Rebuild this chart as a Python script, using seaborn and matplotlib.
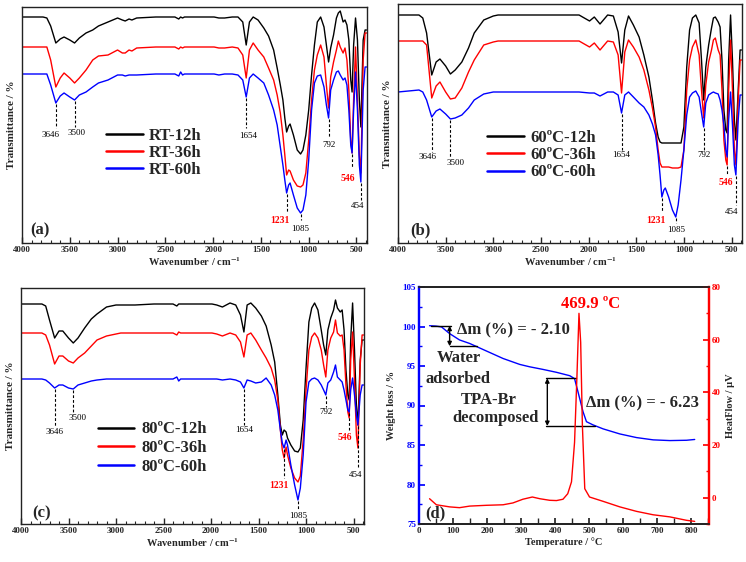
import pandas as pd
import matplotlib
matplotlib.use("Agg")
import matplotlib.pyplot as plt
from matplotlib.ticker import MultipleLocator
import seaborn as sns

# ---- FTIR data (transmittance, arbitrary units) ----
wavenumber = [4000, 3780, 3740, 3700, 3646, 3600, 3560, 3500, 3450, 3400, 3330, 3260, 3200,
              3100, 3000, 2950, 2920, 2880, 2850, 2800, 2600, 2400, 2360, 2340, 2320, 2300,
              2100, 1990, 1940, 1880, 1800, 1740, 1690, 1654, 1620, 1581, 1530, 1470,
              1420, 1367, 1330, 1297, 1270, 1250, 1231, 1210, 1195, 1160, 1120, 1085, 1060, 1030,
              1000, 970, 940, 910, 875, 840, 815, 792, 770, 740, 710, 690,
              670, 640, 620, 600, 580, 560, 546, 530, 510, 490, 470, 454, 430, 410, 395]

rt_12h = [226, 226, 225, 217, 200, 204, 206, 203, 200, 205, 210, 213, 217,
          221, 225, 223, 222, 224, 223, 225, 226, 226, 224, 226, 225, 226,
          226, 226, 225, 225, 226, 226, 221, 198, 221, 226, 223, 215,
          207, 193, 175, 158, 143, 125, 111, 117, 119, 108, 93, 89, 93, 108,
          133, 168, 198, 221, 226, 216, 198, 181, 195, 208, 225, 230,
          232, 221, 223, 218, 203, 163, 151, 198, 225, 203, 143, 116, 203, 213, 213]
rt_36h = [196, 196, 196, 183, 156, 165, 170, 165, 160, 165, 173, 183, 187,
          188, 193, 190, 190, 193, 192, 195, 196, 196, 194, 196, 195, 196,
          196, 196, 195, 195, 196, 195, 188, 165, 193, 200, 193, 186,
          175, 163, 148, 130, 108, 88, 68, 73, 72, 63, 57, 56, 58, 70,
          103, 143, 173, 188, 198, 186, 158, 135, 166, 181, 193, 202,
          196, 190, 195, 183, 153, 103, 90, 143, 196, 143, 88, 70, 183, 210, 210]
rt_60h = [169, 169, 169, 158, 140, 147, 150, 146, 143, 148, 151, 156, 160,
          163, 168, 168, 167, 168, 168, 168, 169, 169, 167, 171, 168, 169,
          169, 169, 168, 169, 169, 168, 163, 146, 165, 169, 165, 160,
          148, 133, 118, 96, 78, 63, 50, 58, 60, 48, 35, 30, 33, 48,
          83, 133, 160, 167, 168, 156, 138, 125, 153, 163, 171, 172,
          168, 163, 165, 158, 133, 98, 90, 133, 171, 133, 78, 61, 153, 176, 176]

c60_12h = [228, 228, 225, 210, 168, 181, 184, 177, 169, 173, 181, 195, 210,
           223, 227, 228, 228, 228, 228, 228, 228, 228, 228, 228, 228, 228,
           228, 222, 226, 219, 228, 227, 211, 180, 213, 227, 218, 206,
           188, 166, 143, 120, 106, 101, 100, 100, 100, 100, 100, 100, 100, 100,
           116, 176, 213, 225, 228, 220, 183, 143, 176, 198, 215, 225,
           226, 221, 216, 183, 133, 113, 110, 183, 228, 183, 123, 103, 153, 193, 193]
c60_36h = [202, 202, 202, 198, 145, 157, 161, 151, 144, 145, 155, 171, 183,
           198, 201, 202, 202, 202, 202, 202, 202, 202, 202, 202, 202, 202,
           202, 196, 200, 193, 202, 201, 188, 150, 191, 203, 196, 186,
           173, 153, 135, 116, 93, 80, 76, 76, 76, 76, 75, 75, 75, 76,
           93, 153, 183, 196, 203, 188, 153, 125, 158, 181, 193, 203,
           205, 193, 188, 153, 103, 83, 78, 153, 203, 153, 93, 78, 143, 183, 183]
c60_60h = [151, 153, 151, 143, 126, 132, 134, 129, 124, 125, 128, 135, 143,
           149, 151, 151, 151, 151, 151, 151, 151, 151, 151, 151, 151, 151,
           151, 150, 150, 147, 151, 151, 148, 130, 148, 151, 146, 140,
           136, 128, 119, 108, 88, 68, 46, 53, 55, 46, 33, 26, 38, 63,
           93, 128, 146, 150, 152, 146, 130, 116, 140, 148, 150, 151,
           150, 149, 143, 133, 118, 93, 86, 123, 151, 118, 78, 68, 123, 148, 148]

c80_12h = [220, 220, 218, 204, 186, 193, 193, 186, 181, 186, 196, 205, 210,
           217, 219, 219, 219, 219, 219, 219, 220, 220, 218, 220, 220, 220,
           220, 220, 219, 217, 221, 219, 209, 192, 219, 221, 216, 208,
           198, 179, 162, 129, 99, 89, 94, 92, 86, 79, 73, 72, 76, 104,
           156, 202, 216, 221, 214, 194, 179, 169, 194, 206, 214, 224,
           216, 212, 214, 194, 154, 129, 124, 184, 221, 174, 119, 99, 164, 184, 184]
c80_36h = [191, 191, 189, 179, 160, 168, 168, 163, 161, 166, 171, 178, 184,
           188, 190, 191, 191, 191, 191, 191, 191, 191, 189, 192, 191, 191,
           191, 191, 190, 188, 191, 189, 182, 167, 189, 191, 184, 174,
           166, 156, 144, 124, 94, 74, 66, 77, 69, 56, 46, 42, 48, 84,
           134, 174, 187, 191, 186, 174, 159, 147, 174, 186, 192, 204,
           191, 188, 189, 174, 139, 112, 106, 164, 192, 144, 89, 76, 159, 189, 189]
c80_60h = [145, 145, 144, 141, 136, 139, 139, 136, 135, 139, 141, 143, 144,
           145, 145, 145, 145, 145, 145, 145, 145, 145, 147, 143, 145, 145,
           145, 145, 145, 144, 145, 144, 142, 136, 144, 143, 141, 142,
           146, 139, 129, 114, 94, 81, 76, 84, 79, 59, 39, 24, 36, 69,
           122, 142, 145, 146, 144, 139, 134, 129, 141, 144, 152, 159,
           147, 144, 142, 134, 124, 114, 112, 134, 146, 129, 109, 99, 129, 139, 139]

labels_rt = ["RT-12h", "RT-36h", "RT-60h"]
labels_60 = ["60ºC-12h", "60ºC-36h", "60ºC-60h"]
labels_80 = ["80ºC-12h", "80ºC-36h", "80ºC-60h"]

# ---- TGA / DSC ----
tga_temp = [31, 50, 66, 90, 119, 149, 198, 247, 296, 325, 364, 404, 443, 457, 467,
            482, 492, 511, 541, 590, 639, 688, 737, 786, 810]
tga_weight = [100.1, 100.05, 99.95, 99.1, 98.3, 97.85, 96.9, 95.95, 95.2, 94.9, 94.57,
              94.2, 93.77, 93.4, 91.75, 89.2, 87.95, 87.55, 87.04, 86.4, 85.94, 85.65,
              85.56, 85.6, 85.7]
dsc_temp = [31, 51, 90, 119, 149, 198, 247, 276, 305, 333, 355, 384, 404, 423, 437, 448,
            457, 464, 470, 475, 480, 487, 501, 541, 590, 639, 688, 737, 786, 810]
dsc_heatflow = [-0.4, -2.7, -3.5, -3.8, -3.2, -2.9, -2.7, -2.0, -0.6, 0.25, -0.4, -1.0,
                -1.1, -0.6, 1.5, 6, 21, 46, 70, 59, 27.5, 3.4, 0.25, -1.4, -3.5, -5.2,
                -6.5, -7.3, -8.6, -9.0]

sns.set_theme(style="ticks")
plt.rcParams["font.family"] = ["Liberation Serif", "DejaVu Serif"]
plt.rcParams["font.weight"] = "bold"
plt.rcParams["axes.labelweight"] = "bold"
plt.rcParams["mathtext.fontset"] = "stix"
plt.rcParams["xtick.direction"] = "in"
plt.rcParams["ytick.direction"] = "in"

fig = plt.figure(figsize=(7.46, 5.62), dpi=100)
W, H = 746, 562


def box(l, t, r, b):
    return [l / W, (H - b) / H, (r - l) / W, (b - t) / H]


def ftir(ax, series, labels, ytop, leg_xy, spacing, tag, tag_xy, peaks):
    n = len(wavenumber)
    df = pd.DataFrame({"Wavenumber": wavenumber * 3,
                       "T": series[0] + series[1] + series[2],
                       "Sample": [labels[0]] * n + [labels[1]] * n + [labels[2]] * n})
    sns.lineplot(data=df, x="Wavenumber", y="T", hue="Sample",
                 palette=["black", "red", "blue"], estimator=None, sort=False,
                 lw=1.0, ax=ax)
    ax.set_xlim(4000, 390)
    ax.set_ylim(0, ytop)
    ax.set_yticks([])
    ax.xaxis.set_major_locator(MultipleLocator(500))
    ax.xaxis.set_minor_locator(MultipleLocator(100))
    ax.tick_params(axis="x", which="major", length=4, width=1, labelsize=6.5, pad=2)
    ax.tick_params(axis="x", which="minor", length=2, width=0.8)
    ax.set_xlabel("Wavenumber / cm$^{\\mathbf{-1}}$", fontsize=7.5, labelpad=1)
    ax.set_ylabel("Transmittance / %", fontsize=8, labelpad=4)
    for s in ax.spines.values():
        s.set_linewidth(1.0)
        s.set_color("#222222")
    h, l = ax.get_legend_handles_labels()
    leg = ax.legend(h, l, loc="center left", bbox_to_anchor=leg_xy, frameon=False,
                    fontsize=12, handlelength=2.2, handletextpad=0.4,
                    labelspacing=spacing, borderpad=0, borderaxespad=0)
    for ln in leg.get_lines():
        ln.set_linewidth(1.8)
    ax.text(tag_xy[0], tag_xy[1], tag, transform=ax.transAxes, fontsize=12,
            fontweight="bold", va="center", ha="left")
    for txt, xl, t1, t2, xt, tt, col in peaks:
        ax.plot([xl, xl], [t1, t2], color="black", lw=0.8, dashes=(2.5, 1.8))
        ax.text(xt, tt, txt, color=col, fontsize=6.5 if col == "black" else 7,
                fontweight="normal" if col == "black" else "bold",
                ha="center", va="top")


ax_a = fig.add_axes(box(22, 7, 367, 243))
ftir(ax_a, [rt_12h, rt_36h, rt_60h], labels_rt, 236, (0.243, 0.38), 0.06, "(a)", (0.023, 0.055),
     [("3646", 3646, 139, 115, 3700, 112, "black"),
      ("3500", 3450, 142, 116, 3430, 114, "black"),
      ("1654", 1654, 145, 115, 1630, 111, "black"),
      ("792", 792, 124, 105, 792, 102, "black"),
      ("1231", 1231, 49, 30, 1297, 27, "red"),
      ("1085", 1085, 29, 23, 1089, 18, "black"),
      ("546", 546, 89, 75, 587, 69, "red"),
      ("454", 454, 60, 43, 483, 41, "black")])

ax_b = fig.add_axes(box(398, 4, 742, 243))
ftir(ax_b, [c60_12h, c60_36h, c60_60h], labels_60, 239, (0.259, 0.368), 0.08, "(b)", (0.035, 0.054),
     [("3646", 3646, 125, 91, 3690, 90, "black"),
      ("3500", 3450, 123, 85, 3400, 84, "black"),
      ("1654", 1654, 129, 93, 1654, 92, "black"),
      ("792", 792, 115, 93, 792, 92, "black"),
      ("1231", 1231, 45, 31, 1290, 27, "red"),
      ("1085", 1085, 25, 20, 1085, 17, "black"),
      ("546", 546, 77, 68, 560, 65, "red"),
      ("454", 454, 67, 38, 500, 35, "black")])

ax_c = fig.add_axes(box(21, 288, 364, 524))
ftir(ax_c, [c80_12h, c80_36h, c80_60h], labels_80, 236, (0.224, 0.322), 0.16, "(c)", (0.032, 0.047),
     [("3646", 3646, 135, 97, 3646, 96, "black"),
      ("3500", 3450, 134, 112, 3410, 110, "black"),
      ("1654", 1654, 135, 99, 1654, 98, "black"),
      ("792", 792, 128, 117, 792, 116, "black"),
      ("1231", 1231, 75, 46, 1290, 43, "red"),
      ("1085", 1085, 23, 14, 1085, 12, "black"),
      ("546", 546, 111, 94, 595, 91, "red"),
      ("454", 454, 98, 56, 475, 53, "black")])

# ---- panel (d) ----
ax_d = fig.add_axes(box(419, 287, 709, 524))
tga = pd.DataFrame({"Temperature": tga_temp, "Weight": tga_weight})
sns.lineplot(data=tga, x="Temperature", y="Weight", color="blue", lw=1.0, ax=ax_d)
ax_d.set_xlim(0, 852)
ax_d.set_ylim(75, 105)
ax_d.xaxis.set_major_locator(MultipleLocator(100))
ax_d.xaxis.set_minor_locator(MultipleLocator(50))
ax_d.yaxis.set_major_locator(MultipleLocator(5))
ax_d.yaxis.set_minor_locator(MultipleLocator(2.5))
ax_d.tick_params(axis="x", which="major", length=4, labelsize=6.5, pad=2)
ax_d.tick_params(axis="y", which="both", colors="blue", labelsize=6.5, pad=2)
ax_d.tick_params(axis="y", which="major", length=4)
ax_d.tick_params(axis="y", which="minor", length=2)
ax_d.set_xlabel("Temperature / °C", fontsize=7.5, labelpad=2)
ax_d.set_ylabel("Weight loss / %", fontsize=7.5, labelpad=5)

ax_h = ax_d.twinx()
dsc = pd.DataFrame({"Temperature": dsc_temp, "HeatFlow": dsc_heatflow})
sns.lineplot(data=dsc, x="Temperature", y="HeatFlow", color="red", lw=1.0, ax=ax_h)
ax_h.set_ylim(-10, 80)
ax_h.yaxis.set_major_locator(MultipleLocator(20))
ax_h.yaxis.set_minor_locator(MultipleLocator(10))
ax_h.tick_params(axis="y", which="both", colors="red", labelsize=6.5, pad=2)
ax_h.tick_params(axis="y", which="major", length=4)
ax_h.tick_params(axis="y", which="minor", length=2)
ax_h.set_ylabel("HeatFlow / μV", fontsize=7.5, labelpad=4)
for a in (ax_d, ax_h):
    a.spines["top"].set_color("#222222")
    a.spines["bottom"].set_color("#222222")
    a.spines["left"].set_color("blue")
    a.spines["right"].set_color("red")
    a.spines["left"].set_linewidth(1.6)
    a.spines["right"].set_linewidth(1.6)

ax_h.text(503, 73.7, "469.9 ºC", color="red", fontsize=12, fontweight="bold",
          ha="center", va="center")

# bracket for water loss
ax_d.plot([35, 93], [100.1, 100.1], color="black", lw=1)
ax_d.plot([90, 170], [97.5, 97.5], color="black", lw=1)
ax_d.annotate("", xy=(90, 97.5), xytext=(90, 100.1),
              arrowprops=dict(arrowstyle="<|-|>", color="black", lw=1,
                              mutation_scale=6, shrinkA=0, shrinkB=0))
ax_d.text(113, 99.55, "Δm (%) = - 2.10", fontsize=12, fontweight="bold",
          ha="left", va="center")
ax_d.text(116, 96.05, "Water", fontsize=12, fontweight="bold", ha="center", va="center")
ax_d.text(116, 93.4, "adsorbed", fontsize=12, fontweight="bold", ha="center", va="center")

# bracket for TPA-Br decomposition
ax_d.plot([374, 460], [93.45, 93.45], color="black", lw=1)
ax_d.plot([374, 516], [87.4, 87.4], color="black", lw=1)
ax_d.annotate("", xy=(377, 87.4), xytext=(377, 93.45),
              arrowprops=dict(arrowstyle="<|-|>", color="black", lw=1,
                              mutation_scale=6, shrinkA=0, shrinkB=0))
ax_d.text(205, 90.7, "TPA-Br", fontsize=12, fontweight="bold", ha="center", va="center")
ax_d.text(224, 88.4, "decomposed", fontsize=12, fontweight="bold", ha="center", va="center")
ax_d.text(490, 90.3, "Δm (%) = - 6.23", fontsize=12, fontweight="bold",
          ha="left", va="center")
ax_d.text(17, 76.4, "(d)", fontsize=12, fontweight="bold", ha="left", va="center")

fig.savefig("out.png", dpi=100)
